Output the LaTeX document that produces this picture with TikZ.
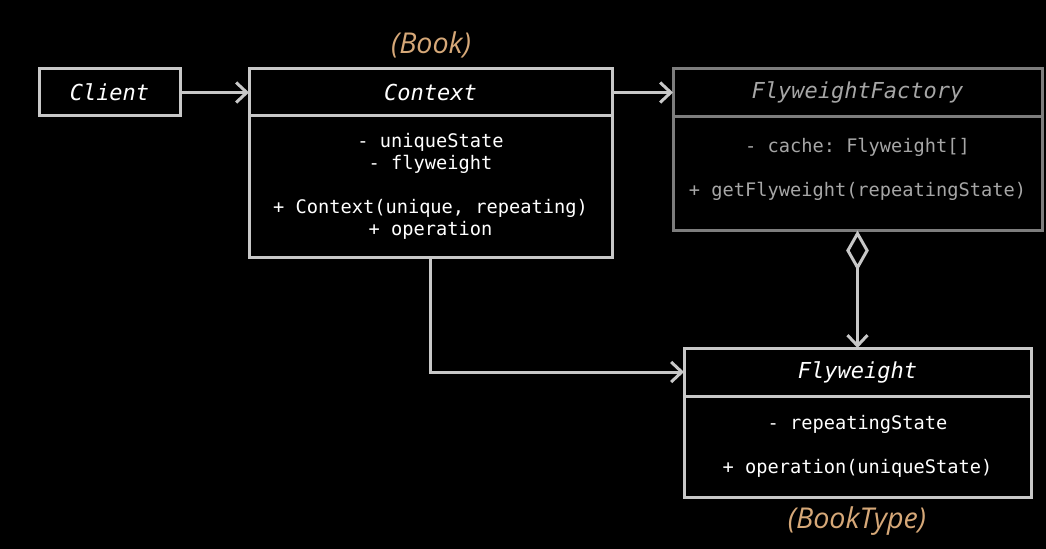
\documentclass[tikz,border=0pt]{standalone}
\usepackage{fontspec}
\setmonofont{DejaVu Sans Mono}
\newfontfamily\notefont{Open Sans}
\usetikzlibrary{arrows.meta,positioning}

\definecolor{umlline}{HTML}{C8C8C8}
\definecolor{umldim}{HTML}{7D7D7D}
\definecolor{umldimtext}{HTML}{A6A6A6}
\definecolor{booknote}{HTML}{D6A878}

\tikzset{
    classtitle/.style={draw=umlline, line width=2.25pt, text=white, outer sep=0pt, inner sep=0pt,
        font=\ttfamily\itshape\fontsize{16.5}{20}\selectfont},
    classbody/.style={draw=umlline, line width=2.25pt, text=white, outer sep=0pt, inner sep=0pt,
        align=center, font=\ttfamily\fontsize{14}{16.5}\selectfont},
    dimmed/.style={draw=umldim, text=umldimtext},
    booklabel/.style={text=booknote, font=\notefont\itshape\fontsize{21.5}{25}\selectfont},
    link/.style={draw=umlline, line width=2.25pt, -{Straight Barb[length=8pt,width=15pt]}},
}

\begin{document}
\begin{tikzpicture}[x=0.75pt,y=-0.75pt]
        % background / page size
        \fill[black] (0,0) rectangle (1046,549);

        % Client
        \node[classtitle, minimum width=105.75pt, minimum height=35.25pt] (client) at (109.5,92.5) {Client};

        % Context
        \node[classtitle, minimum width=272.25pt, minimum height=35.25pt] (ctxtitle) at (430.5,92.5) {Context};
        \node[classbody, minimum width=272.25pt, minimum height=105.75pt, below=0pt of ctxtitle] (ctxbody)
            {- uniqueState\\- flyweight\\[16.5pt]+ Context(unique, repeating)\\+ operation};
        \node[booklabel] (book) at (431,45) {(Book)};

        % FlyweightFactory
        \node[classtitle, dimmed, minimum width=276.75pt, minimum height=36pt] (fcttitle) at (857.5,92.5) {FlyweightFactory};
        \node[classbody, dimmed, minimum width=276.75pt, minimum height=85.5pt, below=0pt of fcttitle] (fctbody)
            {- cache: Flyweight[]\\[16.5pt]+ getFlyweight(repeatingState)\\[-7pt]};

        % Flyweight
        \node[classtitle, minimum width=260.25pt, minimum height=36pt] (fwtitle) at (857.5,372) {Flyweight};
        \node[classbody, minimum width=260.25pt, minimum height=75.75pt, below=0pt of fwtitle] (fwbody)
            {- repeatingState\\[16.5pt]+ operation(uniqueState)};
        \node[booklabel] (booktype) at (857,521) {(BookType)};

        % Connectors
        \draw[link] (client) -- (ctxtitle);
        \draw[link] (ctxtitle) -- (fcttitle);
        \draw[link] (ctxbody.south) |- (fwtitle.west);
        \draw[link, {Diamond[open,length=30pt,width=17pt]}-{Straight Barb[length=8pt,width=15pt]}]
            (fctbody.south) -- (fwtitle.north);
\end{tikzpicture}
\end{document}
